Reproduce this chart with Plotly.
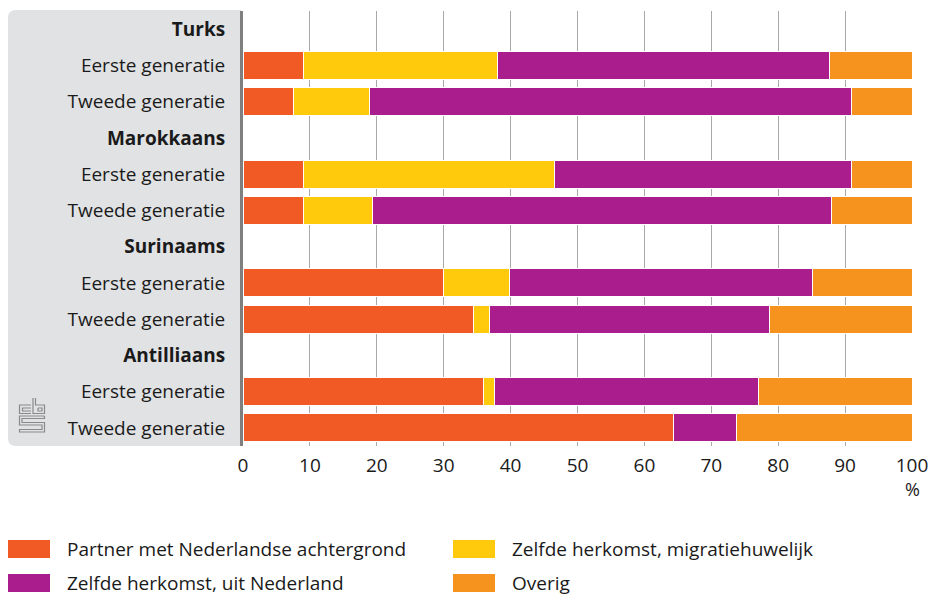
import plotly.graph_objects as go

groups = ["Turks", "Marokkaans", "Surinaams", "Antilliaans"]
generations = ["Eerste generatie", "Tweede generatie"]

series_names = [
    "Partner met Nederlandse achtergrond",
    "Zelfde herkomst, migratiehuwelijk",
    "Zelfde herkomst, uit Nederland",
    "Overig",
]
series_colors = ["#f15a24", "#ffca0c", "#a91e8c", "#f6921e"]

partner_nl = [9.1, 7.5, 9.0, 9.0, 30.0, 34.4, 36.0, 64.3]
migratie = [28.9, 11.4, 37.5, 10.3, 9.8, 2.5, 1.6, 0.0]
uit_nl = [49.7, 72.0, 44.4, 68.7, 45.3, 41.8, 39.4, 9.5]
overig = [12.3, 9.1, 9.1, 12.0, 14.9, 21.3, 23.0, 26.2]
series_values = [partner_nl, migratie, uit_nl, overig]

x_ticks = list(range(0, 101, 10))

# build row labels (group header + generations)
row_labels = []
data_rows = []
for g in groups:
    row_labels.append("<b>" + g + "</b>")
    for gen in generations:
        data_rows.append(len(row_labels))
        row_labels.append(gen)

FONT = "Open Sans"
TXT = "#1a1a1a"
FS = 19

W, H = 933, 594
# plot area in screenshot pixels
PL, PR, PT, PB = 243, 912, 11, 446
L, R, T, B = PL, W - PR, PT, H - PB
pw, ph = PR - PL, PB - PT


def px(x):
    return (x - PL) / pw


def py(y):
    return (PB - y) / ph


def path_px(points):
    return " ".join(("M" if i == 0 else "L") + f" {px(a)},{py(b)}"
                    for i, (a, b) in enumerate(points))


fig = go.Figure()
for name, color, vals in zip(series_names, series_colors, series_values):
    fig.add_trace(go.Bar(
        x=vals, y=data_rows, orientation="h", name=name,
        marker=dict(color=color, line=dict(color="white", width=1)),
        showlegend=False,
    ))

# grey label panel with rounded left corners
x0, x1 = px(8), px(241)
y0, y1 = py(446), py(10)
rx, ry = 8 / pw, 8 / ph
panel = (f"M {x1},{y1} L {x0+rx},{y1} Q {x0},{y1} {x0},{y1-ry} "
         f"L {x0},{y0+ry} Q {x0},{y0} {x0+rx},{y0} L {x1},{y0} Z")
shapes = [dict(type="path", path=panel, xref="paper", yref="paper",
               fillcolor="#e1e2e4", line=dict(width=0), layer="below")]

# small cbs logo in the panel
logo_paths = [
    [(31, 405), (19.5, 405), (19.5, 413.5), (31, 413.5)],
    [(31, 408), (22.5, 408), (22.5, 411), (31, 411)],
    [(33, 398), (33, 413.5), (44.5, 413.5), (44.5, 405), (35.5, 405), (35.5, 398)],
    [(38, 408), (42, 408), (42, 411), (38, 411), (38, 408)],
    [(44.5, 416), (19.5, 416), (19.5, 425), (42, 425), (42, 429.5), (19.5, 429.5),
     (19.5, 432), (44.5, 432), (44.5, 422.5), (22, 422.5), (22, 418.5), (44.5, 418.5),
     (44.5, 416)],
]
for pts in logo_paths:
    shapes.append(dict(type="path", path=path_px(pts), xref="paper", yref="paper",
                       line=dict(color="#8a8a8a", width=1.2)))

annotations = [dict(x=100, y=py(489), xref="x", yref="paper", text="%",
                    showarrow=False, xanchor="center", yanchor="middle",
                    font=dict(family=FONT, size=FS - 1, color=TXT))]

# custom legend
leg_cols = [8, 453]
leg_rows = [549, 583]
for i, (name, color) in enumerate(zip(series_names, series_colors)):
    cx = leg_cols[i % 2]
    cy = leg_rows[i // 2]
    shapes.append(dict(type="rect", xref="paper", yref="paper",
                       x0=px(cx), x1=px(cx + 42), y0=py(cy + 9), y1=py(cy - 9),
                       fillcolor=color, line=dict(width=0)))
    annotations.append(dict(x=px(cx + 57), y=py(cy), xref="paper", yref="paper",
                            text=name, showarrow=False, xanchor="left",
                            yanchor="middle",
                            font=dict(family=FONT, size=FS, color=TXT)))

fig.update_layout(
    width=W, height=H,
    margin=dict(l=L, r=R, t=T, b=B, autoexpand=False),
    barmode="stack", bargap=0.23,
    plot_bgcolor="white", paper_bgcolor="white",
    font=dict(family=FONT, size=FS, color=TXT),
    shapes=shapes, annotations=annotations,
    xaxis=dict(range=[0, 100], tickvals=x_ticks, showgrid=True,
               gridcolor="#a9a9a9", gridwidth=1, zeroline=False,
               showline=False, ticks="", ticklabelstandoff=6,
               ticklabeloverflow="allow",
               tickfont=dict(family=FONT, size=FS, color=TXT)),
    yaxis=dict(range=[len(row_labels) - 0.5, -0.5],
               tickvals=list(range(len(row_labels))), ticktext=row_labels,
               showgrid=False, zeroline=False, showline=True,
               linecolor="#7f7f7f", linewidth=3, ticks="",
               ticklabelstandoff=11,
               tickfont=dict(family=FONT, size=FS, color=TXT)),
)

fig.write_html(
    "out.html",
    config={"displayModeBar": False},
    post_script="document.body.style.margin='0';document.documentElement.style.overflow='hidden';",
)
